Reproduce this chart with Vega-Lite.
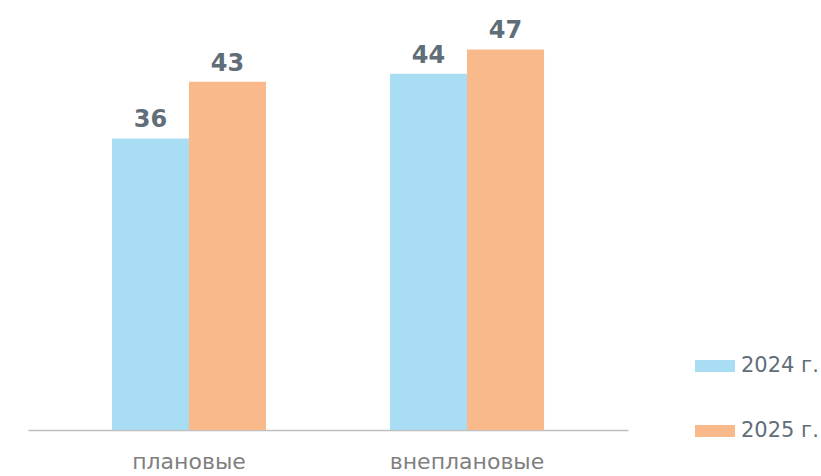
{
  "$schema": "https://vega.github.io/schema/vega-lite/v6.json",
  "autosize": "none",
  "width": 600,
  "height": 430,
  "padding": {"left": 28, "top": 0, "right": 193, "bottom": 46},
  "background": "white",
  "config": {"view": {"stroke": null}, "font": "DejaVu Sans"},
  "data": {
    "values": [
      {"type": "плановые", "year": "2024 г.", "value": 36},
      {"type": "плановые", "year": "2025 г.", "value": 43},
      {"type": "внеплановые", "year": "2024 г.", "value": 44},
      {"type": "внеплановые", "year": "2025 г.", "value": 47}
    ]
  },
  "encoding": {
    "x": {
      "field": "type", "type": "nominal", "sort": null,
      "scale": {"paddingInner": 0.446, "paddingOuter": 0.302},
      "axis": {
        "title": null, "ticks": false, "labelAngle": 0,
        "domainColor": "#bfbfbf", "domainWidth": 1.5,
        "labelFont": "DejaVu Sans", "labelFontSize": 22, "labelColor": "#7f7f7f",
        "labelPadding": 21
      }
    },
    "xOffset": {"field": "year", "type": "nominal", "scale": {"paddingInner": 0, "paddingOuter": 0}},
    "y": {
      "field": "value", "type": "quantitative",
      "scale": {"domain": [0, 53.1], "nice": false, "zero": true},
      "axis": null
    }
  },
  "layer": [
    {
      "mark": {"type": "bar"},
      "encoding": {
        "color": {
          "field": "year", "type": "nominal",
          "scale": {"domain": ["2024 г.", "2025 г."], "range": ["#a9ddf4", "#f9b98a"]},
          "legend": {
            "title": null, "orient": "none", "legendX": 667, "legendY": 346,
            "symbolType": "M-1,-0.3H1V0.3H-1Z", "symbolSize": 1600,
            "symbolStrokeWidth": 0, "symbolOpacity": 1,
            "labelFont": "DejaVu Sans", "labelFontSize": 21, "labelColor": "#5f6e78",
            "labelOffset": 6, "rowPadding": 35, "padding": 0
          }
        }
      }
    },
    {
      "mark": {"type": "text", "baseline": "alphabetic", "dy": -11, "font": "DejaVu Sans", "fontWeight": "bold", "fontSize": 24, "color": "#5f6e78"},
      "encoding": {"text": {"field": "value", "type": "quantitative"}}
    }
  ]
}
